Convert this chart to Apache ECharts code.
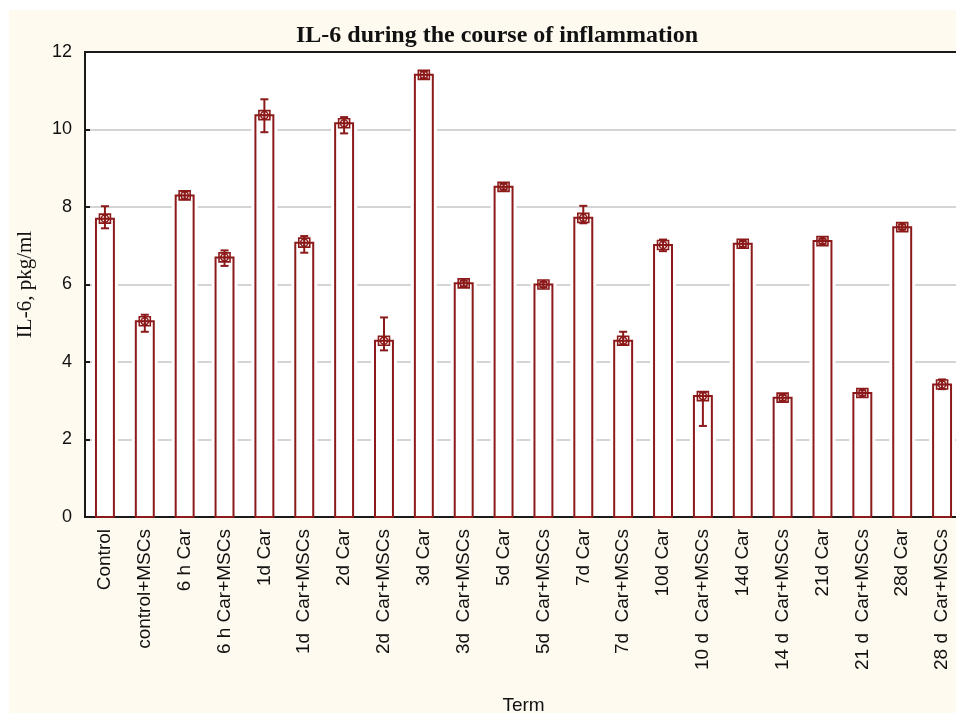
<!DOCTYPE html>
<html>
<head>
	<title>IL-6 during the course of inflammation</title>
	<script type="text/javascript" src="https://cdn.jsdelivr.net/npm/echarts@6/dist/echarts.min.js"></script>
	<style>
		body { margin: 0; background: #fff; }
		#il6 { position: absolute; left: 9px; top: 10px; width: 947px; height: 703px; }
	</style>
</head>

<body>
	<div id="il6"></div>

	<script type="text/javascript">
		// data
		var terms = ['Control', 'control+MSCs', '6 h Car', '6 h Car+MSCs', '1d Car', '1d  Car+MSCs',
			'2d Car', '2d  Car+MSCs', '3d Car', '3d  Car+MSCs', '5d Car', '5d  Car+MSCs',
			'7d Car', '7d  Car+MSCs', '10d Car', '10 d  Car+MSCs', '14d Car', '14 d  Car+MSCs',
			'21d Car', '21 d  Car+MSCs', '28d Car', '28 d  Car+MSCs'];
		var means = [7.7, 5.05, 8.3, 6.7, 10.37, 7.08, 10.16, 4.55, 11.41, 6.03, 8.52, 6.0,
			7.72, 4.55, 7.02, 3.12, 7.05, 3.08, 7.12, 3.2, 7.48, 3.42];
		var errLow = [7.45, 4.78, 8.2, 6.48, 9.93, 6.82, 9.9, 4.3, 11.32, 5.95, 8.45, 5.93,
			7.58, 4.45, 6.86, 2.35, 6.97, 3.0, 7.05, 3.13, 7.42, 3.3];
		var errHigh = [8.02, 5.22, 8.4, 6.88, 10.78, 7.25, 10.32, 5.15, 11.5, 6.1, 8.6, 6.07,
			8.03, 4.78, 7.16, 3.22, 7.12, 3.15, 7.18, 3.27, 7.55, 3.55];
		var yTicks = [0, 2, 4, 6, 8, 10, 12];

		var red = '#8c1a1a';

		function get_data() {
			var lst = [];
			for (var i = 0; i < means.length; i++) {
				lst.push([i, means[i], errLow[i], errHigh[i]]);
			}
			return lst;
		}

		function renderBar(params, api) {
			var i = api.value(0);
			var base = api.coord([i, 0]);
			var top = api.coord([i, api.value(1)]);
			var lo = api.coord([i, api.value(2)]);
			var hi = api.coord([i, api.value(3)]);
			var bw = api.size([1, 0])[0] * 0.45;
			var cx = base[0];
			var kids = [];
			// white gap round the bar, cuts the grid lines
			kids.push({ type: 'rect', shape: { x: cx - bw / 2 - 4, y: top[1] - 6, width: bw + 8, height: base[1] - top[1] + 4 },
				style: { fill: '#fff' } });
			kids.push({ type: 'rect', shape: { x: cx - bw / 2, y: top[1], width: bw, height: base[1] - top[1] },
				style: { fill: '#fff', stroke: red, lineWidth: 2 } });
			// error bar
			kids.push({ type: 'line', shape: { x1: cx, y1: lo[1], x2: cx, y2: hi[1] }, style: { stroke: red, lineWidth: 2 } });
			kids.push({ type: 'line', shape: { x1: cx - 4, y1: lo[1], x2: cx + 4, y2: lo[1] }, style: { stroke: red, lineWidth: 2 } });
			kids.push({ type: 'line', shape: { x1: cx - 4, y1: hi[1], x2: cx + 4, y2: hi[1] }, style: { stroke: red, lineWidth: 2 } });
			// marker: box with circle and cross
			kids.push({ type: 'rect', shape: { x: cx - 5.5, y: top[1] - 4.5, width: 11, height: 9 },
				style: { fill: 'none', stroke: red, lineWidth: 1.6 } });
			kids.push({ type: 'circle', shape: { cx: cx, cy: top[1], r: 3.6 },
				style: { fill: 'none', stroke: red, lineWidth: 1.6 } });
			kids.push({ type: 'line', shape: { x1: cx - 5.5, y1: top[1], x2: cx + 5.5, y2: top[1] }, style: { stroke: red, lineWidth: 1.4 } });
			kids.push({ type: 'line', shape: { x1: cx, y1: top[1] - 4.5, x2: cx, y2: top[1] + 4.5 }, style: { stroke: red, lineWidth: 1.4 } });
			return { type: 'group', children: kids };
		}

		var il6Chart = echarts.init(document.getElementById('il6'));
		var option = {
			backgroundColor: '#fefaef',
			animation: false,
			title: {
				text: 'IL-6 during the course of inflammation',
				left: 483,
				textAlign: 'center',
				top: 2,
				textStyle: { fontFamily: 'Liberation Serif', fontWeight: 'bold', fontSize: 24, color: '#111' }
			},
			grid: {
				left: 76, top: 42, right: -6, bottom: 196,
				outerBoundsMode: 'none',
				containLabel: false,
				show: true, backgroundColor: '#fff', borderColor: '#1a1a1a', borderWidth: 2
			},
			xAxis: [
				{
					type: 'category',
					data: terms,
					axisLine: { lineStyle: { color: '#1a1a1a', width: 2 } },
					axisTick: { inside: true, length: 5, alignWithLabel: true, lineStyle: { color: '#1a1a1a', width: 2 } },
					axisLabel: { interval: 0, rotate: 90, margin: 12, fontFamily: 'Liberation Sans', fontSize: 19, color: '#111' },
					name: 'Term',
					nameLocation: 'middle',
					nameGap: 172,
					nameTextStyle: { fontFamily: 'Liberation Sans', fontSize: 19, color: '#111' }
				},
				{
					type: 'category',
					position: 'top',
					data: terms,
					axisLine: { lineStyle: { color: '#1a1a1a', width: 2 } },
					axisTick: { inside: true, length: 5, alignWithLabel: true, lineStyle: { color: '#1a1a1a', width: 2 } },
					axisLabel: { show: false }
				}
			],
			yAxis: {
				type: 'value',
				min: yTicks[0],
				max: yTicks[yTicks.length - 1],
				interval: 2,
				axisLine: { show: true, lineStyle: { color: '#1a1a1a', width: 2 } },
				axisTick: { show: true, inside: true, length: 5, lineStyle: { color: '#1a1a1a', width: 2 } },
				axisLabel: { margin: 13, fontFamily: 'Liberation Sans', fontSize: 18, color: '#111' },
				splitLine: { lineStyle: { color: '#d4d4d4', width: 2 } },
				name: 'IL-6, pkg/ml',
				nameLocation: 'middle',
				nameGap: 41,
				nameTextStyle: { fontFamily: 'Liberation Serif', fontSize: 21, color: '#111' }
			},
			series: [
				{
					name: 'IL-6',
					type: 'custom',
					renderItem: renderBar,
					encode: { x: 0, y: 1 },
					data: get_data(),
					z: 2
				}
			]
		};
		il6Chart.setOption(option);
	</script>
</body>
</html>
